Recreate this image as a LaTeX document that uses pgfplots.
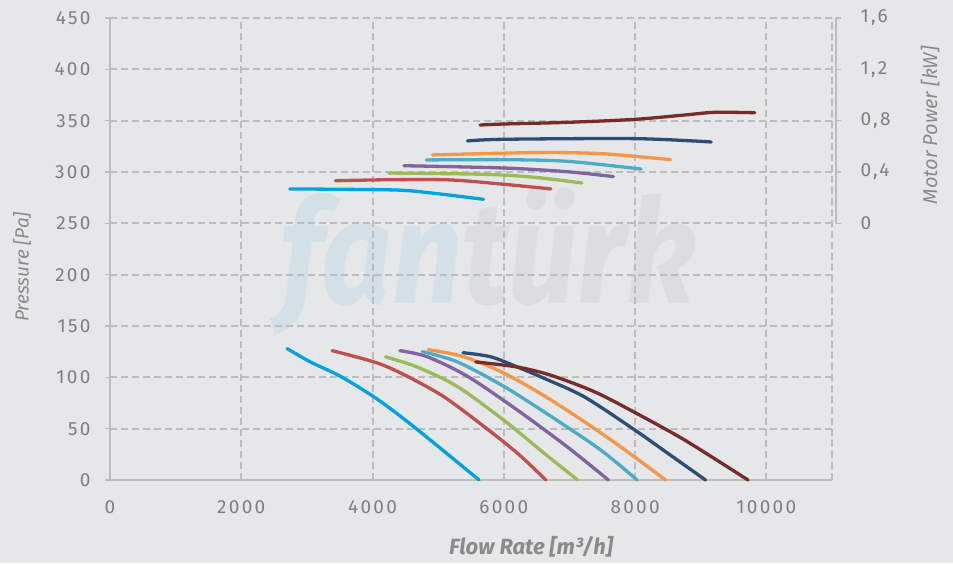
\documentclass[border=0pt]{standalone}
\usepackage{fontspec}
\setmainfont{Fira Sans}
\newfontfamily\tickfont[LetterSpace=12]{Fira Sans}
\usepackage{pgfplots}
\pgfplotsset{compat=1.18}
\definecolor{bg}{HTML}{E6E7E8}
\definecolor{gridc}{HTML}{BDBDBD}
\definecolor{txt}{HTML}{7F7F7F}
\definecolor{lab}{HTML}{8A8A8A}
\definecolor{wmA}{HTML}{D3E0E8}
\definecolor{wmB}{HTML}{DCDDDF}
\definecolor{c1}{HTML}{00A3E0}
\definecolor{c2}{HTML}{C0504D}
\definecolor{c3}{HTML}{9BBB59}
\definecolor{c4}{HTML}{8064A2}
\definecolor{c5}{HTML}{4BACC6}
\definecolor{c6}{HTML}{F79646}
\definecolor{c7}{HTML}{2C4D75}
\definecolor{c8}{HTML}{772C2A}
\begin{document}
\begin{tikzpicture}[x=1pt,y=1pt]
\fill[bg] (0,0) rectangle (953,563);
\node[xscale=0.85,transform shape,inner sep=0] at (488,301)
  {\fontsize{145}{145}\selectfont\bfseries\itshape\textcolor{wmA}{fan}\textcolor{wmB}{türk}};
\begin{axis}[
  at={(110pt,83pt)}, anchor=south west, scale only axis,
  width=722pt, height=462pt,
  xmin=0, xmax=11000, ymin=0, ymax=450,
  axis x line*=bottom, axis y line*=left,
  axis line style={gridc, line width=1.6pt, -},
  xtick={0,2000,4000,6000,8000,10000,11000},
  xticklabels={0,2000,4000,6000,8000,10000,{}},
  scaled x ticks=false,
  ytick={0,50,...,450},
  grid=major,
  grid style={gridc, dash pattern=on 7pt off 4pt, line width=2pt},
  xtick style={draw=none},
  ytick style={gridc, line width=1.6pt},
  major tick length=5pt, tick align=outside,
  /pgf/number format/assume math mode=true,
  /pgf/number format/1000 sep={},
  ticklabel style={font=\tickfont\fontsize{19}{22}\selectfont, text=txt},
  xticklabel style={yshift=-12pt},
  yticklabel style={xshift=-11pt},
  xlabel={\bfseries\itshape Flow Rate [m³/h]},
  ylabel={\itshape Pressure [Pa]},
  label style={font=\fontsize{19}{22}\selectfont, text=lab},
  xlabel style={font=\fontsize{22}{25}\selectfont, at={(axis description cs:0.583,-0.145)}, anchor=center},
  ylabel style={at={(axis description cs:-0.122,0.461)}, anchor=center},
  every axis plot/.append style={line width=3.3pt, smooth, no markers, line cap=round},
  clip=false,
]
\addplot[c1] coordinates {(2697,128) (3053,115) (3511,101) (4020,81) (4427,62) (4936,36) (5623,0)};
\addplot[c2] coordinates {(3384,126) (4071,114) (4529,101) (5089,81) (5700,52) (6209,26) (6641,0)};
\addplot[c3] coordinates {(4198,120) (4682,110) (5293,91) (6005,58) (6615,26) (7125,0)};
\addplot[c4] coordinates {(4417,126) (4835,120) (5446,101) (6209,68) (6972,32) (7593,0)};
\addplot[c5] coordinates {(4758,125) (5293,115) (6005,91) (6717,62) (7481,29) (8030,0)};
\addplot[c6] coordinates {(4850,127) (5394,120) (6005,104) (6717,78) (7633,39) (8463,0)};
\addplot[c7] coordinates {(5379,124) (5801,120) (6209,110) (6615,99) (7226,81) (7989,49) (8499,26) (9073,0)};
\addplot[c8] coordinates {(5572,115) (6209,110) (6717,102) (7379,86) (7989,66) (8753,39) (9720,0)};
\node[rotate=90, font=\fontsize{20}{23}\selectfont\itshape, text=lab] at (axis description cs:1.136,0.768) {Motor Power [kW]};
\end{axis}
\begin{axis}[
  at={(110pt,83pt)}, anchor=south west, scale only axis,
  width=722pt, height=462pt,
  xmin=0, xmax=11000, ymin=-2, ymax=1.6,
  axis x line=none,
  axis y line*=right,
  y axis line style={draw=none},
  ytick={0,0.4,0.8,1.2,1.6},
  yticklabels={0,{0,4},{0,8},{1,2},{1,6}},
  ytick style={draw=none},
  ticklabel style={font=\tickfont\fontsize{19}{22}\selectfont, text=txt},
  yticklabel style={anchor=west, xshift=25pt},
  every axis plot/.append style={line width=3.3pt, smooth, no markers, line cap=round},
  clip=false,
]
\draw[gridc, line width=1.6pt] ([xshift=4pt]axis cs:11000,0) -- ([xshift=4pt]axis cs:11000,1.6);
\pgfplotsinvokeforeach{0,0.4,0.8,1.2,1.6}{
  \draw[gridc, line width=1.6pt] ([xshift=4pt]axis cs:11000,#1) -- ([xshift=9pt]axis cs:11000,#1);
}
\addplot[c1] coordinates {(2738,0.268) (4325,0.260) (4936,0.234) (5690,0.187)};
\addplot[c2] coordinates {(3435,0.332) (4300,0.340) (5191,0.338) (6005,0.304) (6717,0.268)};
\addplot[c3] coordinates {(4249,0.392) (5700,0.382) (6463,0.359) (7190,0.314)};
\addplot[c4] coordinates {(4478,0.449) (6005,0.431) (6972,0.402) (7669,0.364)};
\addplot[c5] coordinates {(4819,0.494) (6005,0.496) (6972,0.483) (8091,0.423)};
\addplot[c6] coordinates {(4911,0.533) (6463,0.551) (7481,0.543) (8539,0.496)};
\addplot[c7] coordinates {(5446,0.642) (6005,0.655) (7990,0.660) (9160,0.634)};
\addplot[c8] coordinates {(5638,0.766) (6005,0.774) (6972,0.787) (7990,0.810) (8753,0.844) (9211,0.865) (9822,0.862)};
\end{axis}
\end{tikzpicture}
\end{document}
